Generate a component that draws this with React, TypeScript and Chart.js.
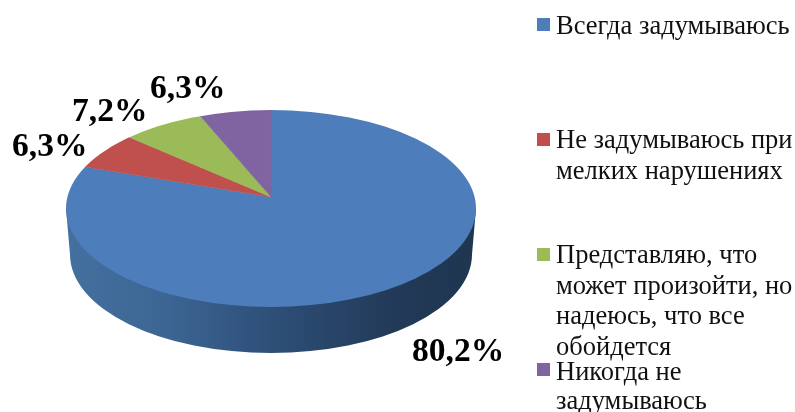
import React, { useEffect, useRef } from "react";
import { Chart, registerables } from "chart.js";

Chart.register(...registerables);

const categories = [
  "Всегда задумываюсь",
  "Не задумываюсь при мелких нарушениях",
  "Представляю, что может произойти, но надеюсь, что все обойдется",
  "Никогда не задумываюсь",
];
const values = [80.2, 6.3, 7.2, 6.3];
const valueLabels = ["80,2%", "6,3%", "7,2%", "6,3%"];
const colors = ["#4d7ebb", "#c0504d", "#9bbb59", "#8064a2"];

const legendLines = [
  ["Всегда задумываюсь"],
  ["Не задумываюсь при", "мелких нарушениях"],
  ["Представляю, что", "может произойти, но", "надеюсь, что все", "обойдется"],
  ["Никогда не", "задумываюсь"],
];
const legendSwatchTop = [18, 133, 248, 363];
const legendBaselines = [
  [34],
  [148, 179],
  [263, 294, 324, 355],
  [380, 409],
];
const labelAnchors = [
  [412, 361],
  [12, 156],
  [72, 121],
  [150, 98],
];

const FONT = '"Liberation Serif", "Times New Roman", serif';

const pie3d = {
  id: "pie3d",
  beforeDatasetsDraw(chart: any) {
    const ctx = chart.ctx;
    const arcs = chart.getDatasetMeta(0).data;
    const cx = arcs[0].x;
    const cy = arcs[0].y;
    const apexY = 197;
    const ellY = 208.5;
    const rx = 205;
    const ry = 98.5;

    // cylinder wall
    const grad = ctx.createLinearGradient(66, 0, 476, 0);
    grad.addColorStop(0, "#44709f");
    grad.addColorStop(0.25, "#3c6593");
    grad.addColorStop(0.5, "#2e4f78");
    grad.addColorStop(0.8, "#223a58");
    grad.addColorStop(1, "#1f3550");
    ctx.save();
    ctx.beginPath();
    ctx.moveTo(cx - rx, ellY);
    ctx.lineTo(cx - 201, ellY + 46);
    ctx.ellipse(cx, ellY + 46, 201, 98.5, 0, Math.PI, 0, true);
    ctx.lineTo(cx + rx, ellY);
    ctx.closePath();
    ctx.fillStyle = grad;
    ctx.fill();
    ctx.restore();

    // top surface: the library's arcs, seen in perspective
    ctx.save();
    ctx.beginPath();
    ctx.ellipse(cx, ellY, rx, ry, 0, 0, Math.PI * 2);
    ctx.clip();
    ctx.translate(cx, apexY);
    ctx.scale(1.2, 0.574);
    ctx.translate(-cx, -cy);
    arcs.forEach((a: any) => a.draw(ctx));
    ctx.restore();
    return false;
  },
  afterDraw(chart: any) {
    const ctx = chart.ctx;
    ctx.save();
    ctx.textBaseline = "alphabetic";
    ctx.textAlign = "left";
    ctx.fillStyle = "#000";
    ctx.font = `bold 33.5px ${FONT}`;
    valueLabels.forEach((t, i) => ctx.fillText(t, labelAnchors[i][0], labelAnchors[i][1]));
    ctx.font = `26.5px ${FONT}`;
    legendLines.forEach((lines, i) => {
      ctx.fillStyle = colors[i];
      ctx.fillRect(537, legendSwatchTop[i], 13, 13);
      ctx.fillStyle = "#111";
      lines.forEach((l, j) => ctx.fillText(l, 556, legendBaselines[i][j]));
    });
    ctx.restore();
  },
};

export default function App() {
  const ref = useRef<HTMLCanvasElement>(null);
  useEffect(() => {
    const chart = new Chart(ref.current as HTMLCanvasElement, {
      type: "pie",
      data: {
        labels: categories,
        datasets: [
          {
            data: values,
            backgroundColor: colors,
            borderColor: colors,
            borderWidth: 0.5,
          },
        ],
      },
      options: {
        responsive: false,
        animation: false,
        layout: { padding: { left: 66, right: 319, top: 0, bottom: 2 } },
        plugins: { legend: { display: false }, tooltip: { enabled: false } },
      },
      plugins: [pie3d],
    } as any);
    return () => chart.destroy();
  }, []);
  return (
    <div style={{ position: "absolute", left: 0, top: 0, width: 795, height: 412, background: "#fff" }}>
      <canvas ref={ref} width={795} height={412} style={{ display: "block" }} />
    </div>
  );
}
